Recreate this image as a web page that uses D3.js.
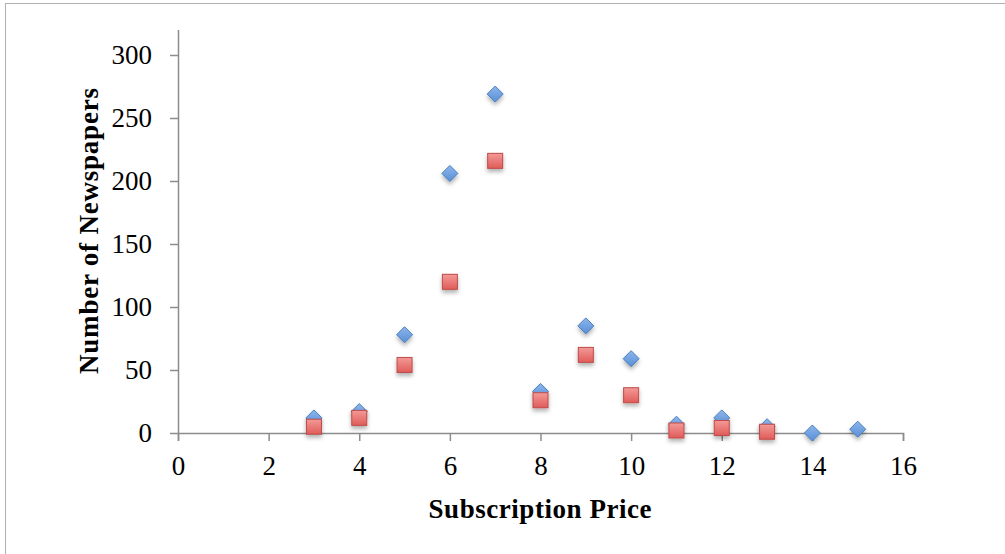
<!DOCTYPE html>
<html><head><meta charset="utf-8">
<script src="https://cdn.jsdelivr.net/npm/d3@7"></script>
<style>body{margin:0;background:#fff}svg{display:block}</style>
</head><body>
<script>
const xValues = [3,4,5,6,7,8,9,10,11,12,13,14,15];
const seriesA = [12,17,78,206,269,33,85,59,7,12,5,0,3];
const seriesB = [5,12,54,120,216,26,62,30,2,4,1];
const xTicks = [0,2,4,6,8,10,12,14,16];
const yTicks = [0,50,100,150,200,250,300];

const W=1005,H=554;
const svg=d3.select("body").append("svg").attr("width",W).attr("height",H);
const defs=svg.append("defs");
const gb=defs.append("linearGradient").attr("id","gb").attr("x1",0).attr("y1",0).attr("x2",0).attr("y2",1);
gb.append("stop").attr("offset","0%").attr("stop-color","#8db6ec");
gb.append("stop").attr("offset","100%").attr("stop-color","#5a8fd6");
const gr=defs.append("linearGradient").attr("id","gr").attr("x1",0).attr("y1",0).attr("x2",0).attr("y2",1);
gr.append("stop").attr("offset","0%").attr("stop-color","#f39a98");
gr.append("stop").attr("offset","100%").attr("stop-color","#e05c59");
const f=defs.append("filter").attr("id","sh").attr("x","-50%").attr("y","-50%").attr("width","200%").attr("height","200%");
f.append("feDropShadow").attr("dx",0).attr("dy",3).attr("stdDeviation",2).attr("flood-color","#000").attr("flood-opacity",0.3);

svg.append("rect").attr("x",5.5).attr("y",3.5).attr("width",W+10).attr("height",H+10).attr("fill","none").attr("stroke","#b0b0b0");

const x=d3.scaleLinear().domain([0,16]).range([178,903]);
const y=d3.scaleLinear().domain([0,300]).range([433,55]);
const font="'Liberation Serif','DejaVu Serif',serif";

const xa=svg.append("g").attr("transform","translate(0,433)")
 .call(d3.axisBottom(x).tickValues(xTicks).tickSize(8).tickPadding(15).tickFormat(d3.format("d")));
const ya=svg.append("g").attr("transform","translate(178,0)")
 .call(d3.axisLeft(y).tickValues(yTicks).tickSize(8).tickPadding(18).tickFormat(d3.format("d")));
svg.append("line").attr("x1",178.5).attr("x2",178.5).attr("y1",30).attr("y2",433).attr("stroke","#8c8c8c").attr("stroke-width",1.5);
[xa,ya].forEach(a=>{
 a.select(".domain").attr("stroke","#8c8c8c").attr("stroke-width",1.5);
 a.selectAll(".tick line").attr("stroke","#8c8c8c").attr("stroke-width",1.5);
 a.selectAll(".tick text").attr("font-family",font).attr("font-size",27).attr("fill","#000");
});
ya.select(".domain").remove();

svg.append("text").attr("x",540).attr("y",518).attr("text-anchor","middle")
 .attr("font-family",font).attr("font-weight","bold").attr("font-size",27).attr("textLength",223).text("Subscription Price");
svg.append("text").attr("transform","translate(98,231) rotate(-90)").attr("text-anchor","middle")
 .attr("font-family",font).attr("font-weight","bold").attr("font-size",27).attr("textLength",286).text("Number of Newspapers");

const dA=xValues.map((v,i)=>({x:v,y:seriesA[i]}));
const dB=xValues.slice(0,seriesB.length).map((v,i)=>({x:v,y:seriesB[i]}));
svg.append("g").selectAll("path").data(dA).join("path")
 .attr("d","M0,-8L8,0L0,8L-8,0Z")
 .attr("transform",d=>`translate(${x(d.x)},${y(d.y)})`)
 .attr("fill","url(#gb)").attr("stroke","#4a7ebb").attr("stroke-width",1).attr("filter","url(#sh)");
svg.append("g").selectAll("rect").data(dB).join("rect")
 .attr("x",d=>x(d.x)-7.5).attr("y",d=>y(d.y)-7.5).attr("width",15).attr("height",15)
 .attr("fill","url(#gr)").attr("stroke","#be4b48").attr("stroke-width",1).attr("filter","url(#sh)");
</script>
</body></html>
